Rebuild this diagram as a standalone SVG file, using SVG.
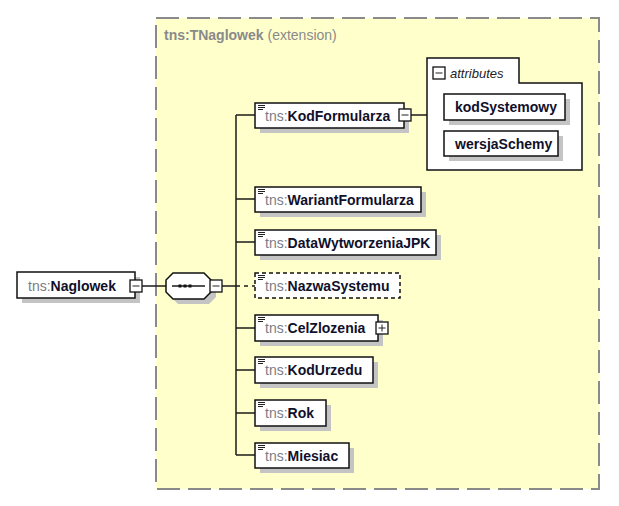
<svg xmlns="http://www.w3.org/2000/svg" width="619" height="506" viewBox="0 0 619 506">
<defs>
<style>
.frame{fill:#ffffcc;stroke:#8a8a8a;stroke-width:2;stroke-dasharray:23 8}
.box{fill:#fff;stroke:#111;stroke-width:1.5}
.dbox{fill:#fff;stroke:#111;stroke-width:1.5;stroke-dasharray:4 3}
.shd{fill:#c4c4c4}
.ln{stroke:#1a1a1a;stroke-width:1.5;fill:none}
.dln{stroke:#1a1a1a;stroke-width:1.5;fill:none;stroke-dasharray:4 4}
.btn{fill:#fff;stroke:#111;stroke-width:1.3}
.ic{stroke:#222;stroke-width:1}
text{font-family:"Liberation Sans",Arial,sans-serif;font-size:14px}
.ns{fill:#7c7c84}
.nm{fill:#10102a;font-weight:bold}
.ttl{fill:#8a8a8a}
.att{font-style:italic;fill:#222;font-size:13px}
</style>
<g id="icon"><line class="ic" x1="0" y1="0.5" x2="7" y2="0.5"/><line class="ic" x1="0" y1="2.5" x2="7" y2="2.5"/><line class="ic" x1="0" y1="4.5" x2="5" y2="4.5"/></g>
<g id="minus"><rect class="btn" x="0" y="0" width="12" height="12"/><line class="ic" x1="2.5" y1="6" x2="9.5" y2="6"/></g>
<g id="plus"><rect class="btn" x="0" y="0" width="12" height="12"/><line class="ic" x1="2.5" y1="6" x2="9.5" y2="6"/><line class="ic" x1="6" y1="2.5" x2="6" y2="9.5"/></g>
</defs>
<rect width="619" height="506" fill="#fff"/>

<g id="TNaglowek">
<rect class="frame" x="156" y="18" width="443" height="471"/>
<text x="164" y="40" class="ttl"><tspan font-weight="bold">tns:TNaglowek</tspan> (extension)</text>
</g>

<g id="connectors">
<line class="ln" x1="142" y1="286" x2="166" y2="286"/>
<line class="ln" x1="222" y1="286" x2="236" y2="286"/>
<line class="ln" x1="236" y1="115" x2="236" y2="455"/>
<line class="ln" x1="236" y1="115" x2="255" y2="115"/>
<line class="ln" x1="236" y1="199" x2="255" y2="199"/>
<line class="ln" x1="236" y1="242" x2="255" y2="242"/>
<line class="dln" x1="236" y1="286" x2="255" y2="286"/>
<line class="ln" x1="236" y1="328" x2="255" y2="328"/>
<line class="ln" x1="236" y1="370" x2="255" y2="370"/>
<line class="ln" x1="236" y1="413" x2="255" y2="413"/>
<line class="ln" x1="236" y1="455" x2="255" y2="455"/>
<line class="ln" x1="411" y1="115" x2="427" y2="115"/>
</g>

<g id="Naglowek">
<rect class="shd" x="22" y="277" width="118" height="26"/>
<rect class="box" x="17" y="272" width="118" height="26"/>
<text x="28" y="291"><tspan class="ns">tns:</tspan><tspan class="nm">Naglowek</tspan></text>
<use href="#minus" x="130" y="280"/>
</g>

<g id="sequence">
<path class="shd" d="M178,278 H209 L216,285 V297 L209,304 H178 L171,297 V285 Z"/>
<path class="box" d="M173,273 H204 L211,280 V292 L204,299 H173 L166,292 V280 Z"/>
<line class="ln" x1="172" y1="286" x2="205" y2="286"/>
<rect x="178.5" y="284.5" width="3" height="3" fill="#111"/>
<rect x="183.5" y="284.5" width="3" height="3" fill="#111"/>
<rect x="188.5" y="284.5" width="3" height="3" fill="#111"/>
<use href="#minus" x="210" y="280"/>
</g>

<g id="KodFormularza">
<rect class="shd" x="260" y="108" width="149" height="25"/>
<rect class="box" x="255" y="103" width="149" height="25"/>
<use href="#icon" x="258" y="105"/>
<text x="265" y="121"><tspan class="ns">tns:</tspan><tspan class="nm">KodFormularza</tspan></text>
<use href="#minus" x="399" y="109"/>
</g>

<g id="attributes">
<path class="box" d="M427,58 H519 V83 H582 V170 H427 Z"/>
<use href="#minus" x="433" y="67"/>
<text x="450" y="78" class="att">attributes</text>
</g>

<g id="kodSystemowy">
<rect class="shd" x="449" y="99" width="121" height="26"/>
<rect class="box" x="444" y="94" width="121" height="26"/>
<text x="455" y="112" class="nm">kodSystemowy</text>
</g>

<g id="wersjaSchemy">
<rect class="shd" x="449" y="136" width="114" height="25"/>
<rect class="box" x="444" y="131" width="114" height="25"/>
<text x="455" y="149" class="nm">wersjaSchemy</text>
</g>

<g id="WariantFormularza">
<rect class="shd" x="260" y="192" width="166" height="25"/>
<rect class="box" x="255" y="187" width="166" height="25"/>
<use href="#icon" x="258" y="189"/>
<text x="265" y="205"><tspan class="ns">tns:</tspan><tspan class="nm">WariantFormularza</tspan></text>
</g>

<g id="DataWytworzeniaJPK">
<rect class="shd" x="260" y="235" width="181" height="25"/>
<rect class="box" x="255" y="230" width="181" height="25"/>
<use href="#icon" x="258" y="232"/>
<text x="265" y="248"><tspan class="ns">tns:</tspan><tspan class="nm">DataWytworzeniaJPK</tspan></text>
</g>

<g id="NazwaSystemu">
<rect class="dbox" x="255" y="273" width="145" height="25"/>
<use href="#icon" x="258" y="275"/>
<text x="265" y="291"><tspan class="ns">tns:</tspan><tspan class="nm">NazwaSystemu</tspan></text>
</g>

<g id="CelZlozenia">
<rect class="shd" x="260" y="320" width="123" height="26"/>
<rect class="box" x="255" y="315" width="123" height="26"/>
<use href="#icon" x="258" y="317"/>
<text x="265" y="333"><tspan class="ns">tns:</tspan><tspan class="nm">CelZlozenia</tspan></text>
<use href="#plus" x="376" y="322"/>
</g>

<g id="KodUrzedu">
<rect class="shd" x="260" y="362" width="118" height="26"/>
<rect class="box" x="255" y="357" width="118" height="26"/>
<use href="#icon" x="258" y="359"/>
<text x="265" y="375"><tspan class="ns">tns:</tspan><tspan class="nm">KodUrzedu</tspan></text>
</g>

<g id="Rok">
<rect class="shd" x="260" y="405" width="71" height="26"/>
<rect class="box" x="255" y="400" width="71" height="26"/>
<use href="#icon" x="258" y="402"/>
<text x="265" y="418"><tspan class="ns">tns:</tspan><tspan class="nm">Rok</tspan></text>
</g>

<g id="Miesiac">
<rect class="shd" x="260" y="448" width="94" height="25"/>
<rect class="box" x="255" y="443" width="94" height="25"/>
<use href="#icon" x="258" y="445"/>
<text x="265" y="461"><tspan class="ns">tns:</tspan><tspan class="nm">Miesiac</tspan></text>
</g>
</svg>
